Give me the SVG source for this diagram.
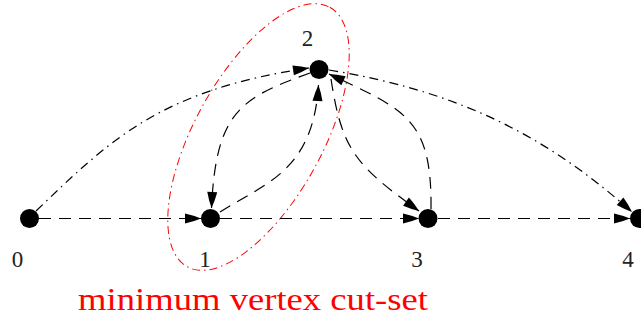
<svg xmlns="http://www.w3.org/2000/svg" width="641" height="323" viewBox="0 0 641 323">
<style>
.e{fill:none;stroke:#000;stroke-width:1.2}
.d{stroke-dasharray:12 8}
.dd{stroke-dasharray:9 5 1.5 5}
.n{fill:#000}
.l{font-family:"Liberation Serif",serif;font-size:23px;fill:#222;text-anchor:middle}
</style>
<defs>
<marker id="a" markerUnits="userSpaceOnUse" markerWidth="18" markerHeight="12" refX="16" refY="5" orient="auto" overflow="visible">
<path d="M0,0 Q9,2 16,5 Q9,8 0,10 Z" fill="#000"/>
</marker>
</defs>
<ellipse cx="258.5" cy="137" rx="148" ry="64" transform="rotate(-61.2 258.5 137)" fill="none" stroke="#f00" stroke-width="1" stroke-dasharray="8 4 1.5 4"/>
<g id="connectors">
<path class="e d" d="M39,218.5 L201,218.5" marker-end="url(#a)"/>
<path class="e d" d="M220,218.5 L419,218.5" marker-end="url(#a)"/>
<path class="e d" d="M438,218.5 L630,218.5" marker-end="url(#a)"/>
<path class="e dd" d="M36,211 C110,140 160,90 309,68" marker-end="url(#a)"/>
<path class="e dd" d="M329,70 C450,90 540,130 632,212" marker-end="url(#a)"/>
<path class="e d" d="M220,212 C265,183 313,172 318.5,85" marker-end="url(#a)"/>
<path class="e d" d="M310,73 C240,98 216,112 211.5,208" marker-end="url(#a)"/>
<path class="e d" d="M331,79 C342,150 355,165 419,211" marker-end="url(#a)"/>
<path class="e d" d="M431,209 C432,118 405,110 329,74" marker-end="url(#a)"/>
</g>
<g id="n0"><circle class="n" cx="29.5" cy="218.5" r="9.5"/><text class="l" x="17.5" y="267">0</text></g>
<g id="n1"><circle class="n" cx="210.5" cy="218.5" r="9.5"/><text class="l" x="205" y="267">1</text></g>
<g id="n2"><circle class="n" cx="319" cy="69.5" r="9.5"/><text class="l" x="307.5" y="46">2</text></g>
<g id="n3"><circle class="n" cx="428" cy="218.5" r="9.5"/><text class="l" x="417" y="267">3</text></g>
<g id="n4"><circle class="n" cx="639.5" cy="218.5" r="9.5"/><text class="l" x="628" y="267">4</text></g>
<text x="78" y="310" font-family="Liberation Serif,serif" font-size="32" fill="#f00" textLength="350" lengthAdjust="spacingAndGlyphs">minimum vertex cut-set</text>
</svg>
